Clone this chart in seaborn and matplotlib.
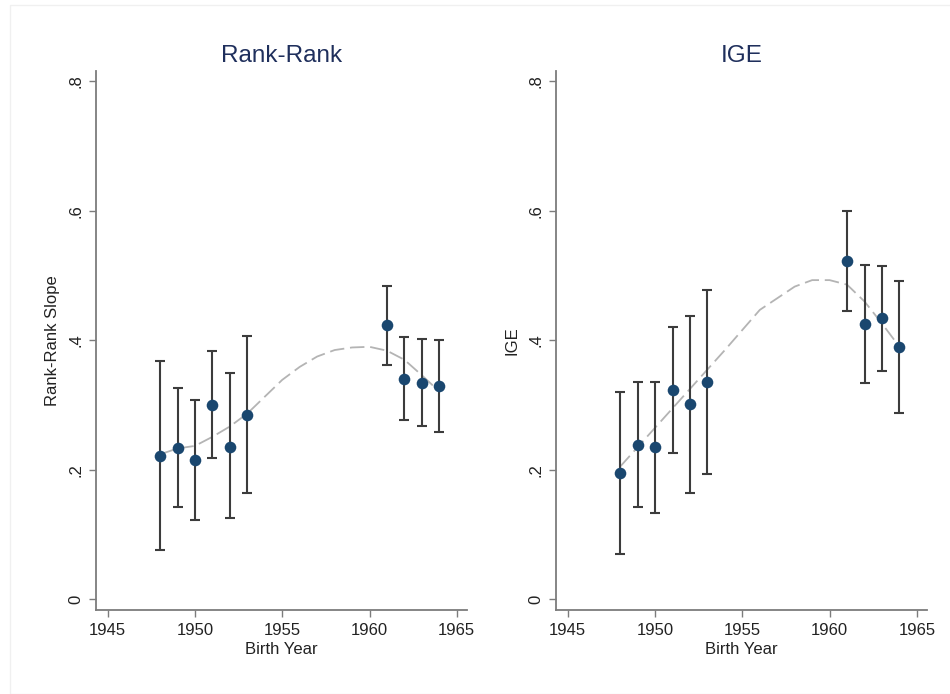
import numpy as np
import pandas as pd
import matplotlib
matplotlib.use("Agg")
import matplotlib.pyplot as plt
import seaborn as sns

# Cohort estimates with 95% confidence bounds
years = [1948, 1949, 1950, 1951, 1952, 1953, 1961, 1962, 1963, 1964]

rr_est = [0.221, 0.233, 0.215, 0.300, 0.236, 0.285, 0.423, 0.340, 0.334, 0.329]
rr_lo = [0.076, 0.142, 0.122, 0.218, 0.125, 0.165, 0.362, 0.277, 0.267, 0.259]
rr_hi = [0.368, 0.327, 0.308, 0.384, 0.349, 0.407, 0.484, 0.405, 0.402, 0.401]

ige_est = [0.195, 0.238, 0.235, 0.323, 0.301, 0.335, 0.522, 0.425, 0.434, 0.390]
ige_lo = [0.070, 0.142, 0.134, 0.226, 0.165, 0.193, 0.446, 0.334, 0.352, 0.288]
ige_hi = [0.320, 0.336, 0.335, 0.421, 0.437, 0.478, 0.599, 0.516, 0.515, 0.492]

# Smoothed trend evaluated at each birth year
fit_years = list(range(1948, 1965))
rr_fit = [0.224, 0.233, 0.237, 0.251, 0.267, 0.287, 0.313, 0.339, 0.359,
          0.375, 0.385, 0.389, 0.390, 0.384, 0.370, 0.346, 0.321]
ige_fit = [0.205, 0.235, 0.265, 0.295, 0.325, 0.355, 0.385, 0.416, 0.447,
           0.465, 0.483, 0.493, 0.493, 0.486, 0.460, 0.426, 0.390]

x_ticks = [1945, 1950, 1955, 1960, 1965]
y_ticks = [0, 0.2, 0.4, 0.6, 0.8]
y_tick_labels = ["0", ".2", ".4", ".6", ".8"]

panels = [
    ("Rank-Rank", "Rank-Rank Slope", rr_est, rr_lo, rr_hi, rr_fit),
    ("IGE", "IGE", ige_est, ige_lo, ige_hi, ige_fit),
]

sns.set_theme(style="white")
plt.rcParams["font.family"] = ["Liberation Sans", "DejaVu Sans"]

NAVY = "#1a476f"
TITLE = "#1f2f5c"
BAR = "#3c3c3c"
FIT = "#b4b4b4"
AXIS = "#7c7c7c"

fig = plt.figure(figsize=(9.5, 6.94), dpi=100)
fig.patch.set_facecolor("white")

# faint outer frame of the graph region
fig.add_artist(plt.Rectangle((10 / 950, 0.0), 1.0, 1 - 5 / 694,
                             transform=fig.transFigure, fill=False,
                             edgecolor="#f0f0f0", linewidth=1.0))

positions = [[0.1007, 0.1210, 0.3906, 0.7771],
             [0.5850, 0.1210, 0.3906, 0.7771]]

for pos, (title, ylabel, est, lo, hi, fit) in zip(positions, panels):
    ax = fig.add_axes(pos)
    df = pd.DataFrame({"year": years, "est": est, "lo": lo, "hi": hi})
    fdf = pd.DataFrame({"year": fit_years, "fit": fit})

    sns.lineplot(data=fdf, x="year", y="fit", ax=ax, color=FIT,
                 linewidth=1.3, dashes=False, zorder=1)
    ax.lines[-1].set_dashes((8, 3.2))

    err = np.vstack([df["est"] - df["lo"], df["hi"] - df["est"]])
    ax.errorbar(df["year"], df["est"], yerr=err, fmt="none", ecolor=BAR,
                elinewidth=1.5, capsize=3.3, capthick=1.5, zorder=2)

    sns.scatterplot(data=df, x="year", y="est", ax=ax, color=NAVY, s=70,
                    edgecolor=NAVY, linewidth=0, zorder=3)

    ax.set_xlim(1944.31, 1965.57)
    ax.set_ylim(-0.0165, 0.8164)
    ax.set_xticks(x_ticks)
    ax.set_xticklabels([str(t) for t in x_ticks], fontsize=12, color="#222222")
    ax.set_yticks(y_ticks)
    ax.set_yticklabels(y_tick_labels, fontsize=12, color="#222222",
                       rotation=90, va="center")

    ax.set_xlabel("Birth Year", fontsize=12, color="#222222", labelpad=3)
    ax.set_ylabel(ylabel, fontsize=12, color="#222222", labelpad=6)
    ax.set_title(title, fontsize=17.5, color=TITLE, pad=6)

    for side in ["top", "right"]:
        ax.spines[side].set_visible(False)
    for side in ["left", "bottom"]:
        ax.spines[side].set_color(AXIS)
        ax.spines[side].set_linewidth(1.3)
    ax.tick_params(axis="both", which="major", direction="out", length=5,
                   width=1.0, color=AXIS, pad=4, bottom=True, left=True)
    ax.grid(False)
    ax.set_facecolor("white")

fig.savefig("out.png", dpi=100, facecolor="white")
